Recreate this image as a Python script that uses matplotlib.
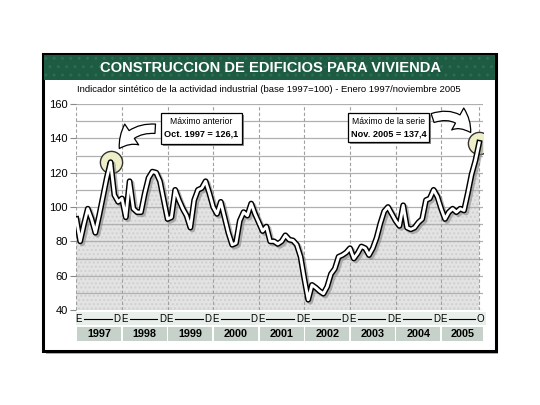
import matplotlib
matplotlib.use("Agg")
import matplotlib.pyplot as plt
from matplotlib.patches import Rectangle, FancyArrowPatch
import matplotlib.transforms as mtransforms
import numpy as np

plt.rcParams['font.family'] = ['Liberation Sans', 'DejaVu Sans']

# indicador mensual, enero 1997 - noviembre 2005 (base 1997=100)
years = ["1997", "1998", "1999", "2000", "2001", "2002", "2003", "2004", "2005"]
v1997 = [93, 80, 90, 99, 93, 85, 95, 106, 117, 126.1, 107, 103]
v1998 = [105, 94, 115, 99, 97, 97, 108, 117, 120.6, 120, 115, 104]
v1999 = [93, 94, 110, 104, 99, 95, 88, 104, 110, 111, 115, 108]
v2000 = [100, 96, 103, 94, 85, 78, 79, 92, 97, 95, 102, 96]
v2001 = [91, 86, 88.6, 80, 80, 78.5, 80, 83.5, 81, 80.5, 78, 71]
v2002 = [58, 46, 54.6, 53, 51, 49.5, 53.6, 61, 64, 71, 72, 73.5]
v2003 = [76, 70, 73, 77, 76, 72, 76, 82, 90.5, 97.5, 100, 96]
v2004 = [92, 89, 101, 88, 87, 88, 91, 93, 104, 105, 110, 106]
v2005 = [99, 93, 97, 99, 97, 99, 98, 108, 119, 127, 137.4]
end_labels = ["D"] * 8 + ["O"]

vals = np.array(v1997 + v1998 + v1999 + v2000 + v2001 + v2002 + v2003 + v2004 + v2005)
months = np.arange(len(vals))
i_prev = 9             # oct 1997
i_max = len(vals) - 1  # nov 2005

W, H = 540, 405
def fx(x):
    return x / W
def fy(y):
    return 1 - y / H

fig = plt.figure(figsize=(5.4, 4.05), dpi=100)
fig.patch.set_facecolor("white")

# marco con sombra
fig.patches.append(Rectangle((fx(46), fy(354)), fx(498) - fx(46), fy(57) - fy(354),
                             transform=fig.transFigure, facecolor="#b0b0b0", edgecolor="none", zorder=0))
fig.patches.append(Rectangle((fx(43), fy(351)), fx(496) - fx(43), fy(54) - fy(351),
                             transform=fig.transFigure, facecolor="white", edgecolor="black", lw=2.2, zorder=0.5))
# banda del titulo
fig.patches.append(Rectangle((fx(44), fy(80)), fx(495) - fx(44), fy(55) - fy(80),
                             transform=fig.transFigure, facecolor="#1d5c43", edgecolor="#2c6c52",
                             hatch="..", lw=0, zorder=0.6))
fig.text(fx(270), fy(68), "CONSTRUCCION DE EDIFICIOS PARA VIVIENDA", color="white",
         fontsize=10.6, fontweight="bold", ha="center", va="center", zorder=2)
fig.text(fx(269), fy(90), "Indicador sintético de la actividad industrial (base 1997=100) - Enero 1997/noviembre 2005",
         fontsize=6.8, ha="center", va="center", zorder=2)

ax = fig.add_axes([fx(76), fy(310), fx(483) - fx(76), fy(104) - fy(310)])
ax.set_zorder(1)
ax.patch.set_alpha(0)
ax.set_xlim(-0.1, 107)
ax.set_ylim(40, 160)
for s in ax.spines.values():
    s.set_visible(False)
ax.set_yticks(np.arange(40, 161, 20))
ax.set_xticks([])
ax.tick_params(axis="y", length=4, color="#888888", labelsize=8, pad=2)

for g in range(40, 161, 10):
    ax.axhline(g, color="#b0b0b0", lw=0.9, zorder=1.5)
for b in list(range(0, 97, 12)) + [106]:
    ax.axvline(b, color="#a0a0a0", lw=0.8, ls=(0, (3, 2)), zorder=1.5)

ax.fill_between(months, 40, vals, facecolor="#e3e3e3", edgecolor="#d0d0d0", hatch="....", lw=0, zorder=1)

# circulos de maximos
ax.plot([i_prev, i_max], [vals[i_prev], vals[i_max]], "o", ms=16, mfc="#eeeec9", mec="#333333",
        mew=1.0, zorder=2)

shadow = mtransforms.offset_copy(ax.transData, fig=fig, x=2, y=-2, units="dots")
ax.plot(months, vals, color="#808080", lw=4.2, alpha=0.55, transform=shadow, zorder=2.5,
        solid_joinstyle="round")
ax.plot(months, vals, color="black", lw=4.2, zorder=3, solid_joinstyle="round")
ax.plot(months, vals, color="white", lw=2.1, zorder=3.1, solid_joinstyle="round")

# etiquetas E - D y anios
lab = ax.get_xaxis_transform()
ax.add_patch(Rectangle((-0.1, -0.072), 108, 0.06, transform=lab, facecolor="#e8eee9",
                       edgecolor="none", clip_on=False, zorder=0.5))
for k, yr in enumerate(years):
    x0 = 12 * k
    x1 = 106.4 if k == 8 else x0 + 10.7
    ax.text(x0 + 0.6, -0.045, "E", transform=lab, fontsize=7, ha="center", va="center", clip_on=False)
    ax.text(x1, -0.045, end_labels[k], transform=lab, fontsize=7, ha="center", va="center", clip_on=False)
    ax.plot([x0 + 2.0, x1 - 1.4], [-0.045, -0.045], transform=lab, color="black", lw=0.8, clip_on=False)
    w = (107 - x0 - 0.3) if k == 8 else 11.6
    ax.add_patch(Rectangle((x0 + 0.2, -0.15), w, 0.068, transform=lab, facecolor="#c6d1c9",
                           edgecolor="none", clip_on=False))
    ax.text(x0 + 0.2 + w / 2, -0.116, yr, transform=lab, fontsize=7.8, fontweight="bold",
            ha="center", va="center", clip_on=False)

# recuadros de anotacion
def note(x0, x1, y0, y1, t1, t2):
    fig.patches.append(Rectangle((fx(x0 + 2), fy(y1 + 2)), fx(x1) - fx(x0), fy(y0) - fy(y1),
                                 transform=fig.transFigure, facecolor="#8a8a8a", edgecolor="none", zorder=3))
    fig.patches.append(Rectangle((fx(x0), fy(y1)), fx(x1) - fx(x0), fy(y0) - fy(y1),
                                 transform=fig.transFigure, facecolor="white", edgecolor="black", lw=0.9, zorder=3.1))
    xc = (x0 + x1) / 2
    fig.text(fx(xc), fy(y0 + 8.5), t1, fontsize=6.2, ha="center", va="center", zorder=3.2)
    fig.text(fx(xc), fy(y0 + 21), t2, fontsize=6.6, fontweight="bold", ha="center", va="center", zorder=3.2)

note(161, 242, 113, 144, "Máximo anterior", "Oct. 1997 = 126,1")
note(348, 429, 113, 142, "Máximo de la serie", "Nov. 2005 = 137,4")

def arrow(p0, p1, rad):
    a = FancyArrowPatch((fx(p0[0]), fy(p0[1])), (fx(p1[0]), fy(p1[1])), transform=fig.transFigure,
                        connectionstyle="arc3,rad=%s" % rad,
                        arrowstyle="simple,head_width=1.2,head_length=0.9,tail_width=0.45",
                        mutation_scale=15, facecolor="white", edgecolor="black", lw=0.9, zorder=3.3)
    fig.patches.append(a)

arrow((158, 129), (118, 151), 0.35)
arrow((430, 119), (472, 135), -0.45)

fig.savefig("out.png", dpi=100)
